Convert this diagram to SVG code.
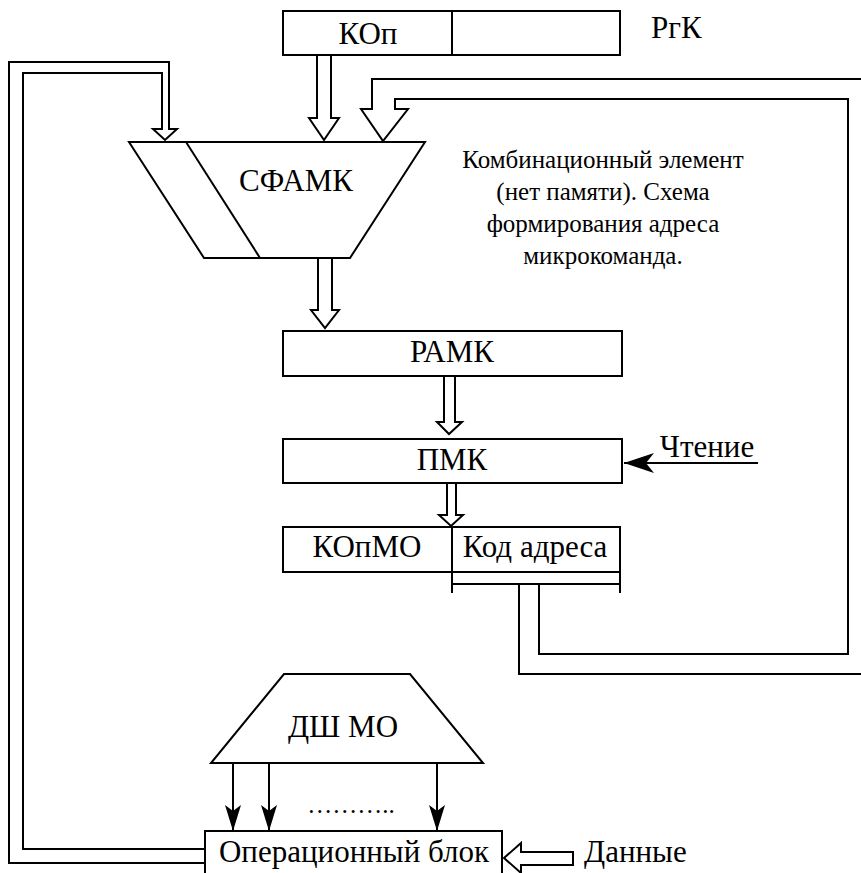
<svg xmlns="http://www.w3.org/2000/svg" width="861" height="873" viewBox="0 0 861 873">
<style>
.wire{fill:none;stroke:#000;stroke-width:2;stroke-linejoin:miter}
.shape{fill:#fff;stroke:#000;stroke-width:2}
svg g text.lblBig{font-family:'Liberation Serif',serif !important;font-size:31px;fill:#000}
svg g text.lblSmall{font-family:'Liberation Serif',serif !important;font-size:25px;fill:#000}
.mid{text-anchor:middle}
</style>
<defs>
<marker id="ah" markerUnits="userSpaceOnUse" viewBox="0 0 30 20" refX="30" refY="10" markerWidth="30" markerHeight="20" orient="auto">
<path d="M0,0 L30,10 L0,20 L8,10 z" fill="#000"/>
</marker>
<marker id="ahs" markerUnits="userSpaceOnUse" viewBox="0 0 26 16" refX="26" refY="8" markerWidth="26" markerHeight="16" orient="auto">
<path d="M0,0 L26,8 L0,16 L6,8 z" fill="#000"/>
</marker>
</defs>
<g id="connectors">
<path class="wire" d="M205,863 L9,863 L9,62 L169,62 L169,129 L177,129 L165,140 L153,129 L162,129 L162,73 L23,73 L23,849 L205,849"/>
<path class="wire" d="M861,79 L372,79 L372,109 L361,109 L383,141 L408,109 L395,109 L395,99 L848,99 L848,654 L539,654 L539,584"/>
<path class="wire" d="M861,674 L519,674 L519,584"/>
<path class="wire" d="M452,572 L452,593 M620,572 L620,593 M452,584 L620,584"/>
<path class="wire" d="M317,55 L317,118 L309,118 L324,140 L339,118 L331,118 L331,55"/>
<path class="wire" d="M318,258 L318,310 L311,310 L325,328 L339,310 L332,310 L332,258"/>
<path class="wire" d="M444,377 L444,422 L437,422 L449,434 L462,422 L455,422 L455,377"/>
<path class="wire" d="M447,483 L447,515 L439,515 L451,526 L463,515 L456,515 L456,483"/>
<path class="wire" d="M758,463 L624,463" marker-end="url(#ah)"/>
<path class="wire" d="M233,763 L233,831" marker-end="url(#ahs)"/>
<path class="wire" d="M269,763 L269,831" marker-end="url(#ahs)"/>
<path class="wire" d="M437,763 L437,831" marker-end="url(#ahs)"/>
<path class="wire" d="M573,852 L521,852 L521,843 L504,858 L521,873 L521,865 L573,865 Z"/>
</g>
<g id="rgk">
<rect class="shape" x="283" y="11" width="337" height="44"/>
<line class="wire" x1="452" y1="11" x2="452" y2="55"/>
<text class="lblBig mid" style="font-family:'Liberation Serif',serif !important" x="368" y="44">КОп</text>
<text class="lblBig" style="font-family:'Liberation Serif',serif !important" x="651" y="38">РгК</text>
</g>
<g id="sfamk">
<polygon class="shape" points="129,142 425,142 350,258 204,258"/>
<line class="wire" x1="186" y1="142" x2="260" y2="258"/>
<text class="lblBig mid" style="font-family:'Liberation Serif',serif !important" x="296" y="191">СФАМК</text>
</g>
<g id="note">
<text class="lblSmall mid" style="font-family:'Liberation Serif',serif !important" x="603" y="168">Комбинационный элемент</text>
<text class="lblSmall mid" style="font-family:'Liberation Serif',serif !important" x="603" y="200">(нет памяти). Схема</text>
<text class="lblSmall mid" style="font-family:'Liberation Serif',serif !important" x="603" y="232">формирования адреса</text>
<text class="lblSmall mid" style="font-family:'Liberation Serif',serif !important" x="603" y="264">микрокоманда.</text>
</g>
<g id="ramk">
<rect class="shape" x="283" y="331" width="339" height="45"/>
<text class="lblBig mid" style="font-family:'Liberation Serif',serif !important" x="452" y="362">РАМК</text>
</g>
<g id="pmk">
<rect class="shape" x="283" y="439" width="339" height="44"/>
<text class="lblBig mid" style="font-family:'Liberation Serif',serif !important" x="452" y="470">ПМК</text>
<text class="lblBig mid" style="font-family:'Liberation Serif',serif !important" x="707" y="457">Чтение</text>
</g>
<g id="mk">
<rect class="shape" x="283" y="527" width="337" height="45"/>
<line class="wire" x1="452" y1="527" x2="452" y2="572"/>
<text class="lblBig mid" style="font-family:'Liberation Serif',serif !important" x="367" y="557">КОпМО</text>
<text class="lblBig mid" style="font-family:'Liberation Serif',serif !important" x="535" y="557">Код адреса</text>
</g>
<g id="dsh">
<polygon class="shape" points="284,674 410,674 483,763 211,763"/>
<text class="lblBig mid" style="font-family:'Liberation Serif',serif !important" x="343" y="737">ДШ МО</text>
</g>
<g id="ob">
<rect class="shape" x="205" y="831" width="297" height="60"/>
<text class="lblBig mid" style="font-family:'Liberation Serif',serif !important" x="354" y="862">Операционный блок</text>
<text class="lblSmall mid" style="font-family:'Liberation Serif',serif !important" x="351" y="813">………..</text>
<text class="lblBig" style="font-family:'Liberation Serif',serif !important" x="584" y="862">Данные</text>
</g>
</svg>
